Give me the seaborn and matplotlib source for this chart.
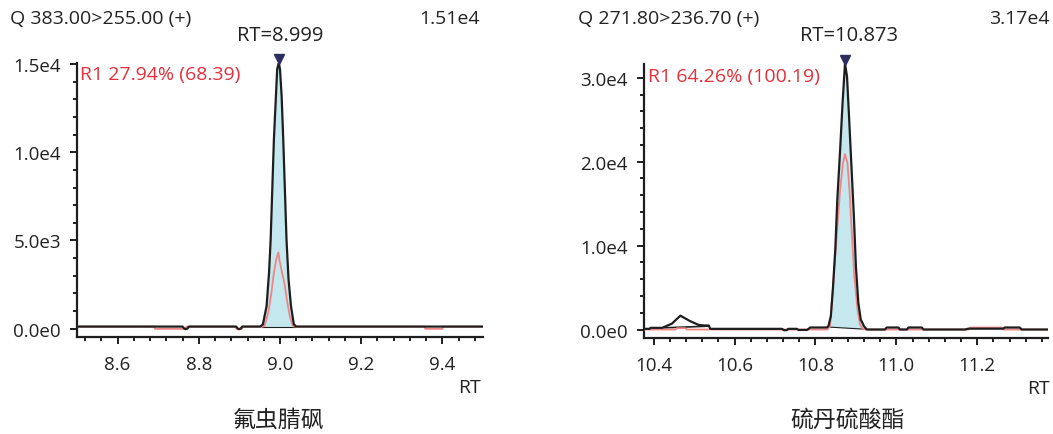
import numpy as np
import pandas as pd
import matplotlib
matplotlib.use("Agg")
import matplotlib.pyplot as plt
import seaborn as sns
from matplotlib.ticker import MultipleLocator, FuncFormatter

sns.set_theme(style="ticks")
plt.rcParams['font.family'] = ['Open Sans', 'Noto Sans CJK SC', 'DejaVu Sans']

# ---------------- data: panel 1 (氟虫腈砜) ----------------
p1_name = "氟虫腈砜"
p1_header = "Q 383.00>255.00 (+)"
p1_max_label = "1.51e4"
p1_rt_label = "RT=8.999"
p1_ratio_label = "R1 27.94% (68.39)"
p1_rt = 8.997
p1_apex = 15100
p1_xlim = (8.5, 9.5)

p1_quant_t = [8.50, 8.760, 8.764, 8.768, 8.772, 8.776, 8.892, 8.896, 8.899, 8.903, 8.907,
              8.952, 8.958, 8.967, 8.973, 8.977, 8.981, 8.985, 8.990, 8.993, 8.997,
              9.000, 9.004, 9.008, 9.012, 9.016, 9.021, 9.027, 9.034, 9.040, 9.50]
p1_quant_i = [110, 110, 0, -40, 0, 110, 110, 0, -40, 0, 110,
              110, 244, 1283, 3178, 5068, 7906, 10744, 13200, 14716, 15100,
              14716, 13200, 10744, 7906, 5068, 2800, 1283, 244, 110, 110]

p1_qual_t = [8.50, 8.690, 8.692, 8.766, 8.770, 8.890, 8.893, 8.906, 8.909, 8.958,
             8.962, 8.971, 8.979, 8.985, 8.991, 8.996, 8.999, 9.005, 9.012, 9.018, 9.024, 9.031,
             9.035, 9.356, 9.358, 9.400, 9.402, 9.50]
p1_qual_i = [110, 110, -20, -20, 110, 110, -30, -30, 110, 110,
             150, 908, 2043, 3178, 3933, 4313, 3837, 3178, 2418, 1476, 715, 187,
             110, 110, -20, -20, 110, 110]

p1_int_start = (8.955, 110)
p1_int_end = (9.037, 110)

# ---------------- data: panel 2 (硫丹硫酸酯) ----------------
p2_name = "硫丹硫酸酯"
p2_header = "Q 271.80>236.70 (+)"
p2_max_label = "3.17e4"
p2_rt_label = "RT=10.873"
p2_ratio_label = "R1 64.26% (100.19)"
p2_rt = 10.873
p2_apex = 31700
p2_xlim = (10.376, 11.375)

p2_quant_t = [10.376, 10.390, 10.392, 10.421, 10.445, 10.466, 10.490, 10.511, 10.525, 10.536, 10.540,
              10.717, 10.722, 10.729, 10.733, 10.754, 10.758, 10.779, 10.783, 10.787, 10.828,
              10.832, 10.838, 10.843, 10.849, 10.854, 10.861, 10.867, 10.871, 10.873,
              10.878, 10.883, 10.889, 10.895, 10.900, 10.906, 10.912, 10.920, 10.927,
              10.972, 10.976, 11.005, 11.009, 11.026, 11.030, 11.063, 11.067,
              11.170, 11.178, 11.264, 11.268, 11.305, 11.310, 11.375]
p2_quant_i = [80, 80, 200, 200, 700, 1650, 1000, 550, 480, 480, 80,
              80, -80, -80, 80, 80, -50, -50, 80, 240, 240,
              393, 1583, 4762, 9524, 15476, 21428, 26988, 30155, 31700,
              30155, 25393, 19440, 13488, 7536, 3178, 1190, 393, 0,
              0, 240, 240, 0, 0, 240, 240, 0,
              0, 100, 100, 240, 240, 0, 0]

p2_qual_t = [10.376, 10.454, 10.458, 10.478, 10.482, 10.830,
             10.836, 10.844, 10.853, 10.861, 10.868, 10.873, 10.879, 10.884, 10.890,
             10.896, 10.904, 10.910, 10.917, 10.925,
             11.178, 11.182, 11.260, 11.264, 11.375]
p2_qual_i = [0, 0, 160, 160, 0, 0,
             393, 5555, 11507, 16666, 19840, 20900, 19840, 16666, 11507,
             6349, 2381, 595, 83, 0,
             0, 240, 240, 0, 0]

p2_int_start = (10.830, 300)
p2_int_end = (10.922, 40)
p2_small_int_start = (10.425, 200)
p2_small_int_end = (10.536, 400)

# ---------------- styling ----------------
BLACK = "#1e1e1e"
QUAL = "#f08586"
FILL = "#c5e7ee"
RED_TXT = "#e3303c"
NAVY = "#2a2d5e"
W, H = 1053, 435


def sci_fmt(v, pos=None):
    if abs(v) < 1e-9:
        return "0.0e0"
    e = int(np.floor(np.log10(abs(v)) + 1e-9))
    m = v / 10 ** e
    return f"{m:.1f}e{e}"


fig = plt.figure(figsize=(W / 100, H / 100), dpi=100)


def panel(rect, t_q, i_q, t_r, i_r, int_s, int_e, rt, apex, xlim,
          ymajor, yminor, extra_int=None):
    ax = fig.add_axes(rect)
    ymax = apex
    ax.set_xlim(*xlim)
    ax.set_ylim(-0.03 * ymax, ymax)

    tq = np.array(t_q)
    iq = np.array(i_q, dtype=float)
    m = (tq >= int_s[0]) & (tq <= int_e[0])
    ft = np.concatenate([[int_s[0]], tq[m], [int_e[0]]])
    fi = np.concatenate([[int_s[1]], iq[m], [int_e[1]]])
    base = np.interp(ft, [int_s[0], int_e[0]], [int_s[1], int_e[1]])
    ax.fill_between(ft, fi, base, color=FILL, lw=0, zorder=1)
    ax.plot([int_s[0], int_e[0]], [int_s[1], int_e[1]], color=BLACK, lw=0.8, zorder=2)
    if extra_int is not None:
        (a, b) = extra_int
        ax.plot([a[0], b[0]], [a[1], b[1]], color=BLACK, lw=1.2, zorder=3)

    dq = pd.DataFrame({"t": t_r, "i": i_r})
    sns.lineplot(data=dq, x="t", y="i", ax=ax, color=QUAL, lw=1.3,
                 estimator=None, sort=False, zorder=3)
    dk = pd.DataFrame({"t": t_q, "i": i_q})
    sns.lineplot(data=dk, x="t", y="i", ax=ax, color=BLACK, lw=1.6,
                 estimator=None, sort=False, zorder=4)

    ax.plot([rt], [apex * 1.012], marker="v", color=NAVY, ms=7.5, mec=NAVY,
            clip_on=False, zorder=6, ls="none")

    sns.despine(ax=ax)
    for s in ("left", "bottom"):
        ax.spines[s].set_linewidth(1.6)
        ax.spines[s].set_color(BLACK)
    ax.xaxis.set_major_locator(MultipleLocator(0.2))
    ax.xaxis.set_minor_locator(MultipleLocator(0.04))
    ax.xaxis.set_major_formatter(FuncFormatter(lambda v, p: f"{v:.1f}"))
    ax.yaxis.set_major_locator(MultipleLocator(ymajor))
    ax.yaxis.set_minor_locator(MultipleLocator(yminor))
    ax.yaxis.set_major_formatter(FuncFormatter(sci_fmt))
    ax.tick_params(axis="both", which="major", direction="out", length=5,
                   width=1.4, color=BLACK, labelsize=13.5, labelcolor="#222222")
    ax.tick_params(axis="both", which="minor", direction="out", length=3,
                   width=1.4, color=BLACK)
    ax.tick_params(axis="x", which="major", pad=8)
    ax.tick_params(axis="y", which="major", pad=6.5)
    ax.set_xlabel("")
    ax.set_ylabel("")
    return ax


ax1 = panel([77 / W, 1 - 337.5 / H, 406 / W, 274 / H],
            p1_quant_t, p1_quant_i, p1_qual_t, p1_qual_i,
            p1_int_start, p1_int_end, p1_rt, p1_apex, p1_xlim, 5000, 1000)
ax2 = panel([644 / W, 1 - 338.5 / H, 404 / W, 274 / H],
            p2_quant_t, p2_quant_i, p2_qual_t, p2_qual_i,
            p2_int_start, p2_int_end, p2_rt, p2_apex, p2_xlim, 10000, 2000,
            extra_int=(p2_small_int_start, p2_small_int_end))


def ftext(x, y, s, **kw):
    fig.text(x / W, 1 - y / H, s, **kw)


TXT = "#222222"
for (qx, mx, rtx, rx, hdr, mxl, rtl, rl, ry) in [
        (10, 480, 280, 80, p1_header, p1_max_label, p1_rt_label, p1_ratio_label, 75),
        (578, 1050, 849, 648, p2_header, p2_max_label, p2_rt_label, p2_ratio_label, 77)]:
    ftext(qx, 19, hdr, ha="left", va="center", fontsize=14, color=TXT)
    ftext(mx, 19, mxl, ha="right", va="center", fontsize=14, color=TXT)
    ftext(rtx, 36, rtl, ha="center", va="center", fontsize=14.5, color=TXT)
    ftext(rx, ry, rl, ha="left", va="center", fontsize=14, color=RED_TXT)

ftext(481, 388, "RT", ha="right", va="center", fontsize=14, color=TXT)
ftext(1050, 389, "RT", ha="right", va="center", fontsize=14, color=TXT)
ftext(278, 420, p1_name, ha="center", va="center", fontsize=16.5, color=TXT,
      family=["Noto Sans CJK SC", "DejaVu Sans"])
ftext(848, 420, p2_name, ha="center", va="center", fontsize=16.5, color=TXT,
      family=["Noto Sans CJK SC", "DejaVu Sans"])

fig.savefig("out.png", dpi=100)
